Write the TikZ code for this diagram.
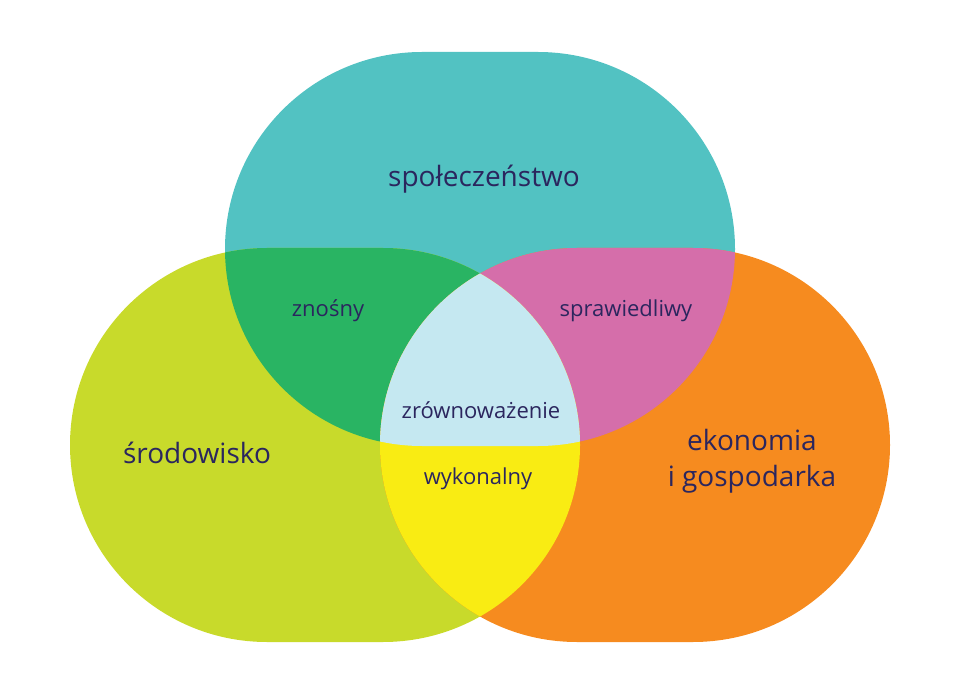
\documentclass[tikz,border=0pt]{standalone}
\usepackage{fontspec}
\setmainfont{Open Sans}
\usepackage{tikz}
\definecolor{spolColor}{RGB}{82,194,194}
\definecolor{srodColor}{RGB}{200,218,43}
\definecolor{ekonColor}{RGB}{246,139,31}
\definecolor{znosColor}{RGB}{41,180,99}
\definecolor{sprawColor}{RGB}{213,110,170}
\definecolor{wykonColor}{RGB}{249,236,19}
\definecolor{zrowColor}{RGB}{197,232,241}
\definecolor{labelColor}{RGB}{43,38,94}
\tikzstyle{biglabel} = [text=labelColor, font=\fontsize{28}{36}\selectfont, align=center]
\tikzstyle{smalllabel} = [text=labelColor, font=\fontsize{22}{27}\selectfont]
\newcommand{\capsule}[2]{(#1-58,#2+197) -- (#1+58,#2+197) arc[start angle=90, end angle=-90, radius=197] -- (#1-58,#2-197) arc[start angle=270, end angle=90, radius=197] -- cycle}
\newcommand{\spol}{\capsule{480}{448}}
\newcommand{\srod}{\capsule{325}{252}}
\newcommand{\ekon}{\capsule{635}{252}}

\begin{document}
\begin{tikzpicture}[x=1pt, y=1pt]

    \useasboundingbox (0,0) rectangle (960,697);

    \fill [spolColor] \spol;
    \fill [srodColor] \srod;
    \fill [ekonColor] \ekon;
    \begin{scope}
        \clip \spol;
        \fill [znosColor] \srod;
        \fill [sprawColor] \ekon;
    \end{scope}
    \begin{scope}
        \clip \srod;
        \fill [wykonColor] \ekon;
    \end{scope}
    \begin{scope}
        \clip \spol;
        \clip \srod;
        \fill [zrowColor] \ekon;
    \end{scope}

    \node (spoleczenstwo) [biglabel] at (484,518) {społeczeństwo};
    \node (srodowisko) [biglabel] at (197,244) {środowisko};
    \node (ekonomia) [biglabel] at (752,236) {ekonomia\\i gospodarka};
    \node (znosny) [smalllabel] at (328,386) {znośny};
    \node (sprawiedliwy) [smalllabel] at (626,386) {sprawiedliwy};
    \node (zrownowazenie) [smalllabel] at (481,287) {zrównoważenie};
    \node (wykonalny) [smalllabel] at (478,218) {wykonalny};

\end{tikzpicture}
\end{document}
